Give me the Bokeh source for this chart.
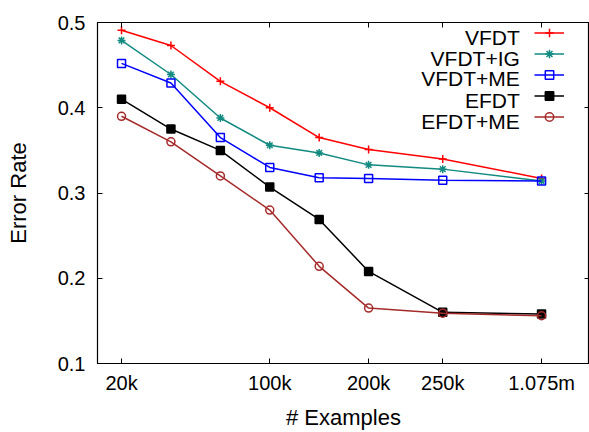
from bokeh.plotting import figure
from bokeh.models import (FixedTicker, LinearAxis, Range1d, Legend, LegendItem, Label)
from bokeh.embed import file_html
from bokeh.resources import INLINE

# ---- data ----
x_pos = [0, 1, 2, 3, 4, 5, 6.5, 8.5]
tick_pos = [0, 3, 5, 6.5, 8.5]
tick_labels = ["20k", "100k", "200k", "250k", "1.075m"]
y_ticks = [0.1, 0.2, 0.3, 0.4, 0.5]

vfdt = [0.491, 0.473, 0.431, 0.400, 0.365, 0.351, 0.340, 0.317]
vfdt_ig = [0.479, 0.439, 0.388, 0.356, 0.347, 0.333, 0.328, 0.314]
vfdt_me = [0.452, 0.429, 0.365, 0.330, 0.318, 0.317, 0.315, 0.314]
efdt = [0.410, 0.375, 0.350, 0.307, 0.269, 0.208, 0.160, 0.158]
efdt_me = [0.390, 0.360, 0.320, 0.280, 0.214, 0.165, 0.159, 0.156]

series_names = ["VFDT", "VFDT+IG", "VFDT+ME", "EFDT", "EFDT+ME"]
series_vals = [vfdt, vfdt_ig, vfdt_me, efdt, efdt_me]
colors = ["#ff0000", "#118a80", "#0000ff", "#000000", "#a52a2a"]
markers = ["cross", "asterisk", "square", "square", "circle"]
fills = [None, None, None, "#000000", None]

FONT = "Liberation Sans"

p = figure(width=589, height=432, output_backend="svg", toolbar_location=None,
           x_range=Range1d(-0.486, 9.47), y_range=Range1d(0.1, 0.5),
           min_border_left=97, min_border_right=0, min_border_top=22, min_border_bottom=68)
p.background_fill_color = "white"
p.border_fill_color = "white"
p.outline_line_color = "black"
p.outline_line_width = 1.2
p.grid.visible = False

# axes
for ax in (p.xaxis[0], p.yaxis[0]):
    ax.major_tick_in = 5
    ax.major_tick_out = 0
    ax.minor_tick_in = 0
    ax.minor_tick_out = 0
    ax.axis_line_color = "black"
    ax.major_tick_line_color = "black"
    ax.major_label_text_font = FONT
    ax.major_label_text_font_size = "20px"
    ax.major_label_text_color = "black"
    ax.axis_label_text_font = FONT
    ax.axis_label_text_font_size = "22px"
    ax.axis_label_text_font_style = "normal"
    ax.axis_label_text_color = "black"

p.xaxis.ticker = FixedTicker(ticks=tick_pos)
p.xaxis.major_label_overrides = {t: l for t, l in zip(tick_pos, tick_labels)}
p.xaxis.axis_label = "# Examples"
p.xaxis.major_label_standoff = 8
p.xaxis.axis_label_standoff = 8

p.yaxis.ticker = FixedTicker(ticks=y_ticks)
p.yaxis.major_label_overrides = {t: f"{t:.1f}" for t in y_ticks}
p.yaxis.axis_label = "Error Rate"
p.yaxis.major_label_standoff = 12
p.yaxis.axis_label_standoff = 24

# mirrored ticks
top = LinearAxis(ticker=FixedTicker(ticks=tick_pos), major_tick_in=5, major_tick_out=0,
                 minor_tick_in=0, minor_tick_out=0, axis_line_color=None,
                 major_label_text_font_size="0px", major_label_standoff=0)
top.major_label_overrides = {t: "" for t in tick_pos}
right = LinearAxis(ticker=FixedTicker(ticks=y_ticks), major_tick_in=5, major_tick_out=0,
                   minor_tick_in=0, minor_tick_out=0, axis_line_color=None,
                   major_label_text_font_size="0px", major_label_standoff=0)
right.major_label_overrides = {t: "" for t in y_ticks}
p.add_layout(top, "above")
p.add_layout(right, "right")

items = []
for name, vals, c, m, f in zip(series_names, series_vals, colors, markers, fills):
    lr = p.line(x_pos, vals, line_color=c, line_width=1.5)
    sr = p.scatter(x_pos, vals, marker=m, size=8, line_color=c, line_width=1.5,
                   fill_color=f if f else None)
    items.append(LegendItem(label=" ", renderers=[lr, sr]))

legend = Legend(items=items, location="top_right", margin=0, padding=4,
                spacing=0, glyph_width=30, glyph_height=21, label_height=21,
                label_width=25, label_standoff=0, label_text_font_size="1px",
                border_line_color=None, background_fill_alpha=0)
p.add_layout(legend, "center")

# legend texts (right-aligned, left of the sample lines)
legend_text_x = 8.06
legend_text_y = [0.4825, 0.4583, 0.4342, 0.4088, 0.3834]
for name, ly in zip(series_names, legend_text_y):
    p.add_layout(Label(x=legend_text_x, y=ly, text=name, text_align="right",
                       text_baseline="middle", text_font=FONT,
                       text_font_size="21px", text_color="black"))

open("out.html", "w").write(file_html(p, INLINE))
